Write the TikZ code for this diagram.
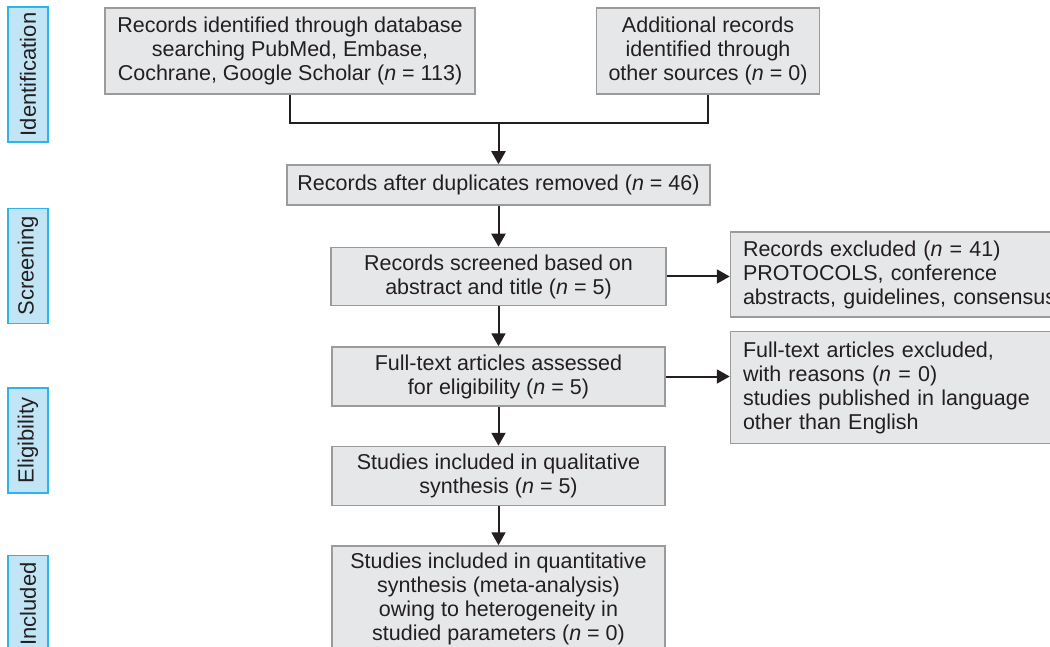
\documentclass[tikz,border=0pt]{standalone}
\usepackage{fontspec}
\setmainfont{Liberation Sans}
\usepackage{graphicx}
\usetikzlibrary{positioning,arrows.meta}

\definecolor{boxgray}{HTML}{E6E7E8}
\definecolor{boxline}{HTML}{9B9B9B}
\definecolor{phasefill}{HTML}{C2E5F6}
\definecolor{phaseline}{HTML}{2BB5EC}
\definecolor{linkcol}{HTML}{231F20}

\begin{document}
\begin{tikzpicture}[x=1pt, y=1pt,
	every node/.style={font=\fontsize{21.5pt}{24pt}\selectfont, text=linkcol},
	box/.style={draw=boxline, fill=boxgray, line width=1.5pt, align=center, inner sep=0pt},
	sidebox/.style={box, align=left, inner xsep=12.5pt, text width=320pt},
	phase/.style={draw=phaseline, fill=phasefill, line width=1.5pt, minimum width=40pt, inner sep=0pt, font=\fontsize{22pt}{24pt}\selectfont},
	link/.style={draw=linkcol, line width=2pt},
	arr/.style={link, -{Triangle[length=13pt, width=14pt]}}
]
	\useasboundingbox (0,0) rectangle (1050,-647);
	\clip (0,0) rectangle (1050,-647);

	\node [phase, minimum height=135pt] (p1) at (28,-74.5) {\rotatebox{90}{Identification}};
	\node [phase, minimum height=115pt, below=65pt of p1] (p2) {\rotatebox{90}{Screening}};
	\node [phase, minimum height=105pt, below=63pt of p2] (p3) {\rotatebox{90}{Eligibility}};
	\node [phase, minimum height=97pt, below=61pt of p3] (p4) {\rotatebox{90}{Included}};

	\node [box, minimum width=370pt, minimum height=86pt] (a1) at (290,-51) {Records identified through database\\searching PubMed, Embase,\\Cochrane, Google Scholar (\textit{n} = 113)};
	\node [box, minimum width=223pt, minimum height=86pt, right=120pt of a1] (a2) {Additional records\\identified through\\other sources (\textit{n} = 0)};

	\node [box, minimum width=423pt, minimum height=40pt] (b1) at (498.5,-185) {Records after duplicates removed (\textit{n} = 46)};
	\coordinate [above=41pt of b1] (j1);

	\node [box, minimum width=335pt, minimum height=58pt, below=41pt of b1] (c1) {Records screened based on\\abstract and title (\textit{n} = 5)};
	\node [sidebox, minimum height=85pt, right=63pt of c1, yshift=2pt] (c2) {Records excluded (\textit{n} = 41)\\PROTOCOLS, conference\\abstracts, guidelines, consensus};

	\node [box, minimum width=333pt, minimum height=59pt, below=40pt of c1] (d1) {Full-text articles assessed\\for eligibility (\textit{n} = 5)};
	\node [sidebox, minimum height=112pt, right=64pt of d1, yshift=-11pt] (d2) {Full-text articles excluded,\\with reasons (\textit{n} = 0)\\studies published in language\\other than English};

	\node [box, minimum width=333pt, minimum height=59pt, below=39pt of d1] (e1) {Studies included in qualitative\\synthesis (\textit{n} = 5)};
	\node [box, minimum width=333pt, minimum height=105pt, below=39pt of e1] (f1) {Studies included in quantitative\\synthesis (meta-analysis)\\owing to heterogeneity in\\studied parameters (\textit{n} = 0)};

	\draw [link] (a1.south) |- (j1) -| (a2.south);
	\draw [arr] (j1) -- (b1);
	\draw [arr] (b1) -- (c1);
	\draw [arr] (c1.east) -- (c1.east -| c2.west);
	\draw [arr] (c1) -- (d1);
	\draw [arr] (d1.east) -- (d1.east -| d2.west);
	\draw [arr] (d1) -- (e1);
	\draw [arr] (e1) -- (f1);
\end{tikzpicture}
\end{document}
